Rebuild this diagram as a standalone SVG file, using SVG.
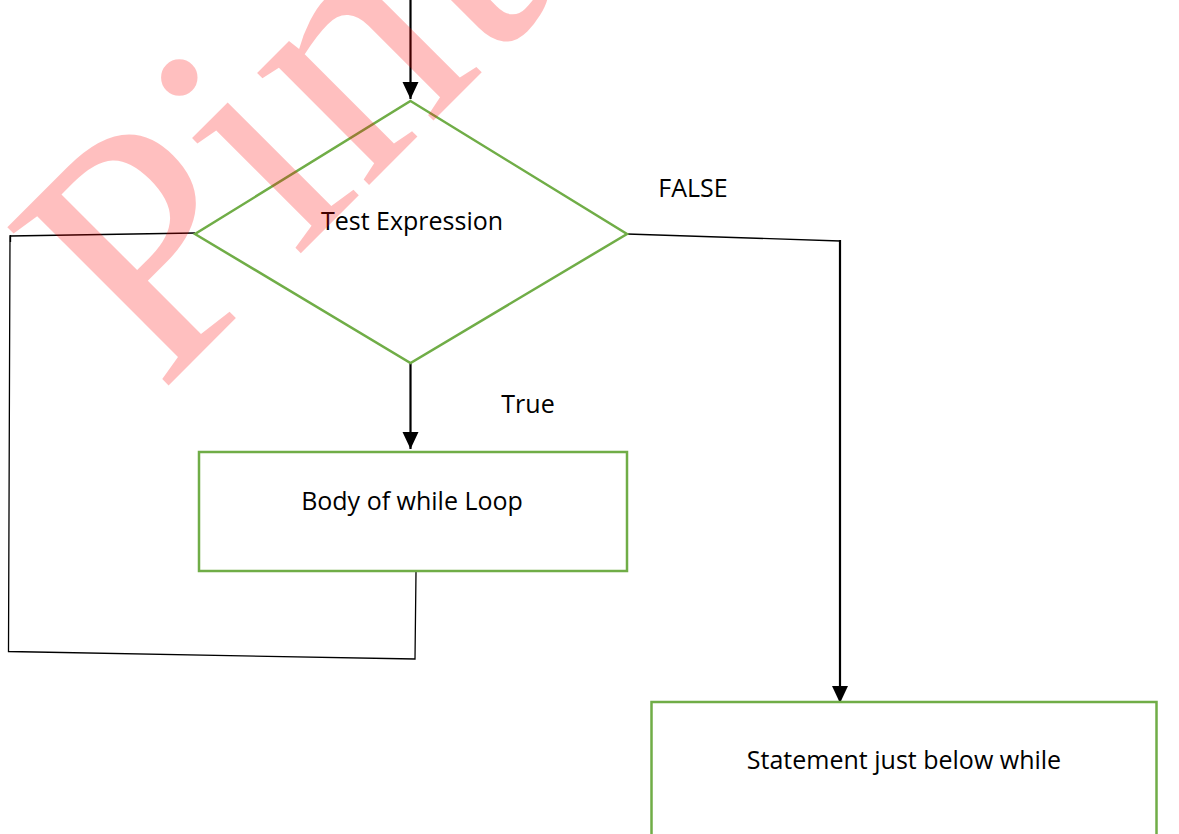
<svg xmlns="http://www.w3.org/2000/svg" width="1179" height="834" viewBox="0 0 1179 834">
<style>
.shape{fill:#ffffff;stroke:#70ad47;stroke-width:2.5}
.lbl{font-family:"Open Sans","Liberation Sans",sans-serif;font-size:25px;fill:#000000;text-anchor:middle}
.thin{fill:none;stroke:#000000;stroke-width:1.3}
.arr{fill:none;stroke:#000000;stroke-width:2.2;marker-end:url(#ah)}
.wm{font-family:"Liberation Serif",serif;font-size:345px;fill:#ff0000;fill-opacity:0.25}
</style>
<defs>
<marker id="ah" markerUnits="userSpaceOnUse" markerWidth="18" markerHeight="18" viewBox="0 0 18 18" refX="17" refY="9" orient="auto">
<path d="M0,1 L17,9 L0,17 Z" fill="#000000"/>
</marker>
</defs>
<rect width="1179" height="834" fill="#ffffff"/>
<g id="connectors">
<line class="arr" x1="410.5" y1="0" x2="410.5" y2="99"/>
<line class="arr" x1="410.5" y1="363" x2="410.5" y2="449"/>
<polyline class="thin" points="627,234 840,241"/>
<line class="arr" x1="840" y1="240" x2="840" y2="703"/>
<polyline class="thin" points="416,572 415,659 8.5,651.5 10,236 195,233"/>
<line class="thin" x1="10.5" y1="235" x2="10.5" y2="242"/>
</g>
<g id="node-test">
<polygon class="shape" points="410.5,101 627,234 410.5,363 195,234"/>
<text class="lbl" x="412" y="230">Test Expression</text>
</g>
<g id="label-false"><text class="lbl" x="693" y="197">FALSE</text></g>
<g id="label-true"><text class="lbl" x="528" y="413">True</text></g>
<g id="node-body">
<rect class="shape" x="199" y="452" width="428" height="119"/>
<text class="lbl" x="412" y="510">Body of while Loop</text>
</g>
<g id="node-statement">
<rect class="shape" x="651.5" y="702" width="505" height="145"/>
<text class="lbl" x="904" y="769">Statement just below while</text>
</g>
<g id="watermark">
<text class="wm" x="160" y="394" transform="rotate(-45 160 394)">Pinterest</text>
</g>
</svg>
